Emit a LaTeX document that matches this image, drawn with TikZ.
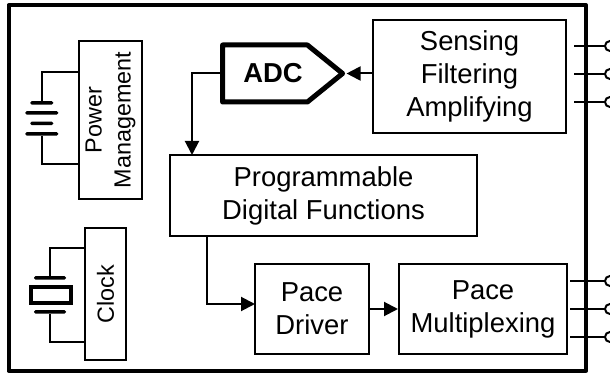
\documentclass[tikz,border=0pt]{standalone}
\usepackage{fontspec}
\setmainfont{Liberation Sans}
\usetikzlibrary{arrows.meta,shapes.symbols}
\tikzset{
  blockbox/.style={draw,align=center,inner sep=0pt,line width=0.04cm,font=\fontsize{15.6}{18.7}\selectfont},
  sidebox/.style={blockbox,rotate=90,font=\fontsize{13.3}{16.4}\selectfont},
  plate/.style={fill=black,inner sep=0pt,rounded corners=0.03cm,minimum height=0.07cm},
  port/.style={draw,circle,inner sep=0pt,minimum size=0.2cm,line width=0.04cm},
  wire/.style={line width=0.04cm}
}
\begin{document}
\begin{tikzpicture}[>={Triangle[length=0.28cm,width=0.28cm]}]
\useasboundingbox (0,0) rectangle (12.2,7.5);
\node[draw,line width=0.08cm,line join=round,inner sep=0pt,minimum width=11.55cm,minimum height=7.31cm] at (5.945,3.74) (board) {};
\node[sidebox,minimum width=3.16cm,minimum height=1.26cm] at (2.21,5.1) (power) {Power\\Management};
\node[sidebox,minimum width=2.64cm,minimum height=0.82cm] at (2.11,1.62) (clock) {Clock};
\node[blockbox,minimum width=3.86cm,minimum height=2.26cm] at (9.39,5.97) (sensing) {Sensing\\Filtering\\Amplifying};
\node[blockbox,minimum width=6.14cm,minimum height=1.62cm] at (6.47,3.59) (prog) {Programmable\\Digital Functions};
\node[blockbox,minimum width=2.28cm,minimum height=1.8cm] at (6.24,1.32) (driver) {Pace\\Driver};
\node[blockbox,minimum width=3.36cm,minimum height=1.8cm] at (9.66,1.32) (mux) {Pace\\Multiplexing};
% ADC
\node[draw,signal,signal to=east,signal pointer angle=78,line width=0.1cm,line join=round,inner sep=0pt,minimum width=2.4cm,minimum height=1.14cm] at (5.3,6.03) (adc) {};
\node[font=\fontsize{15.6}{18.7}\selectfont\bfseries,inner sep=0pt] at (5.46,6.03) (adclabel) {ADC};
\coordinate (progin) at (3.84,4.4);
\coordinate (progout) at (4.14,2.78);
\coordinate (driverin) at (5.1,1.42);
\draw[wire,->] (sensing.west |- adc.east) -- (adc.east);
\draw[wire,->] (adc.west) -| (progin);
\draw[wire,->] (progout) |- (driverin);
\draw[wire,->] (driver) -- (mux);
% battery
\node[plate,minimum width=0.46cm] at (0.835,5.44) (bat1) {};
\node[plate,minimum width=0.66cm] at (0.835,5.24) (bat2) {};
\node[plate,minimum width=0.46cm] at (0.835,5.03) (bat3) {};
\node[plate,minimum width=0.66cm] at (0.835,4.82) (bat4) {};
\coordinate (powertop) at (1.58,6.06);
\coordinate (powerbot) at (1.58,4.22);
\draw[wire] (bat1) |- (powertop);
\draw[wire] (bat4) |- (powerbot);
% crystal
\node[plate,minimum width=0.64cm] at (1,1.94) (xtal1) {};
\node[draw,line width=0.07cm,inner sep=0pt,minimum width=0.8cm,minimum height=0.32cm] at (1.02,1.6) (xtal) {};
\node[plate,minimum width=0.64cm] at (1,1.26) (xtal2) {};
\coordinate (clocktop) at (1.7,2.54);
\coordinate (clockbot) at (1.7,0.66);
\draw[wire] (xtal1) |- (clocktop);
\draw[wire] (xtal2) |- (clockbot);
% ports
\node[port] at (12.2,6.58) (p1) {};
\node[port] at (12.2,6.02) (p2) {};
\node[port] at (12.2,5.46) (p3) {};
\node[port] at (12.2,1.88) (p4) {};
\node[port] at (12.2,1.32) (p5) {};
\node[port] at (12.2,0.76) (p6) {};
\coordinate (s1) at (11.48,6.58);
\coordinate (s2) at (11.48,6.02);
\coordinate (s3) at (11.48,5.46);
\coordinate (m1) at (11.4,1.88);
\coordinate (m2) at (11.4,1.32);
\coordinate (m3) at (11.4,0.76);
\draw[wire] (s1) -- (p1);
\draw[wire] (s2) -- (p2);
\draw[wire] (s3) -- (p3);
\draw[wire] (m1) -- (p4);
\draw[wire] (m2) -- (p5);
\draw[wire] (m3) -- (p6);
\end{tikzpicture}
\end{document}
